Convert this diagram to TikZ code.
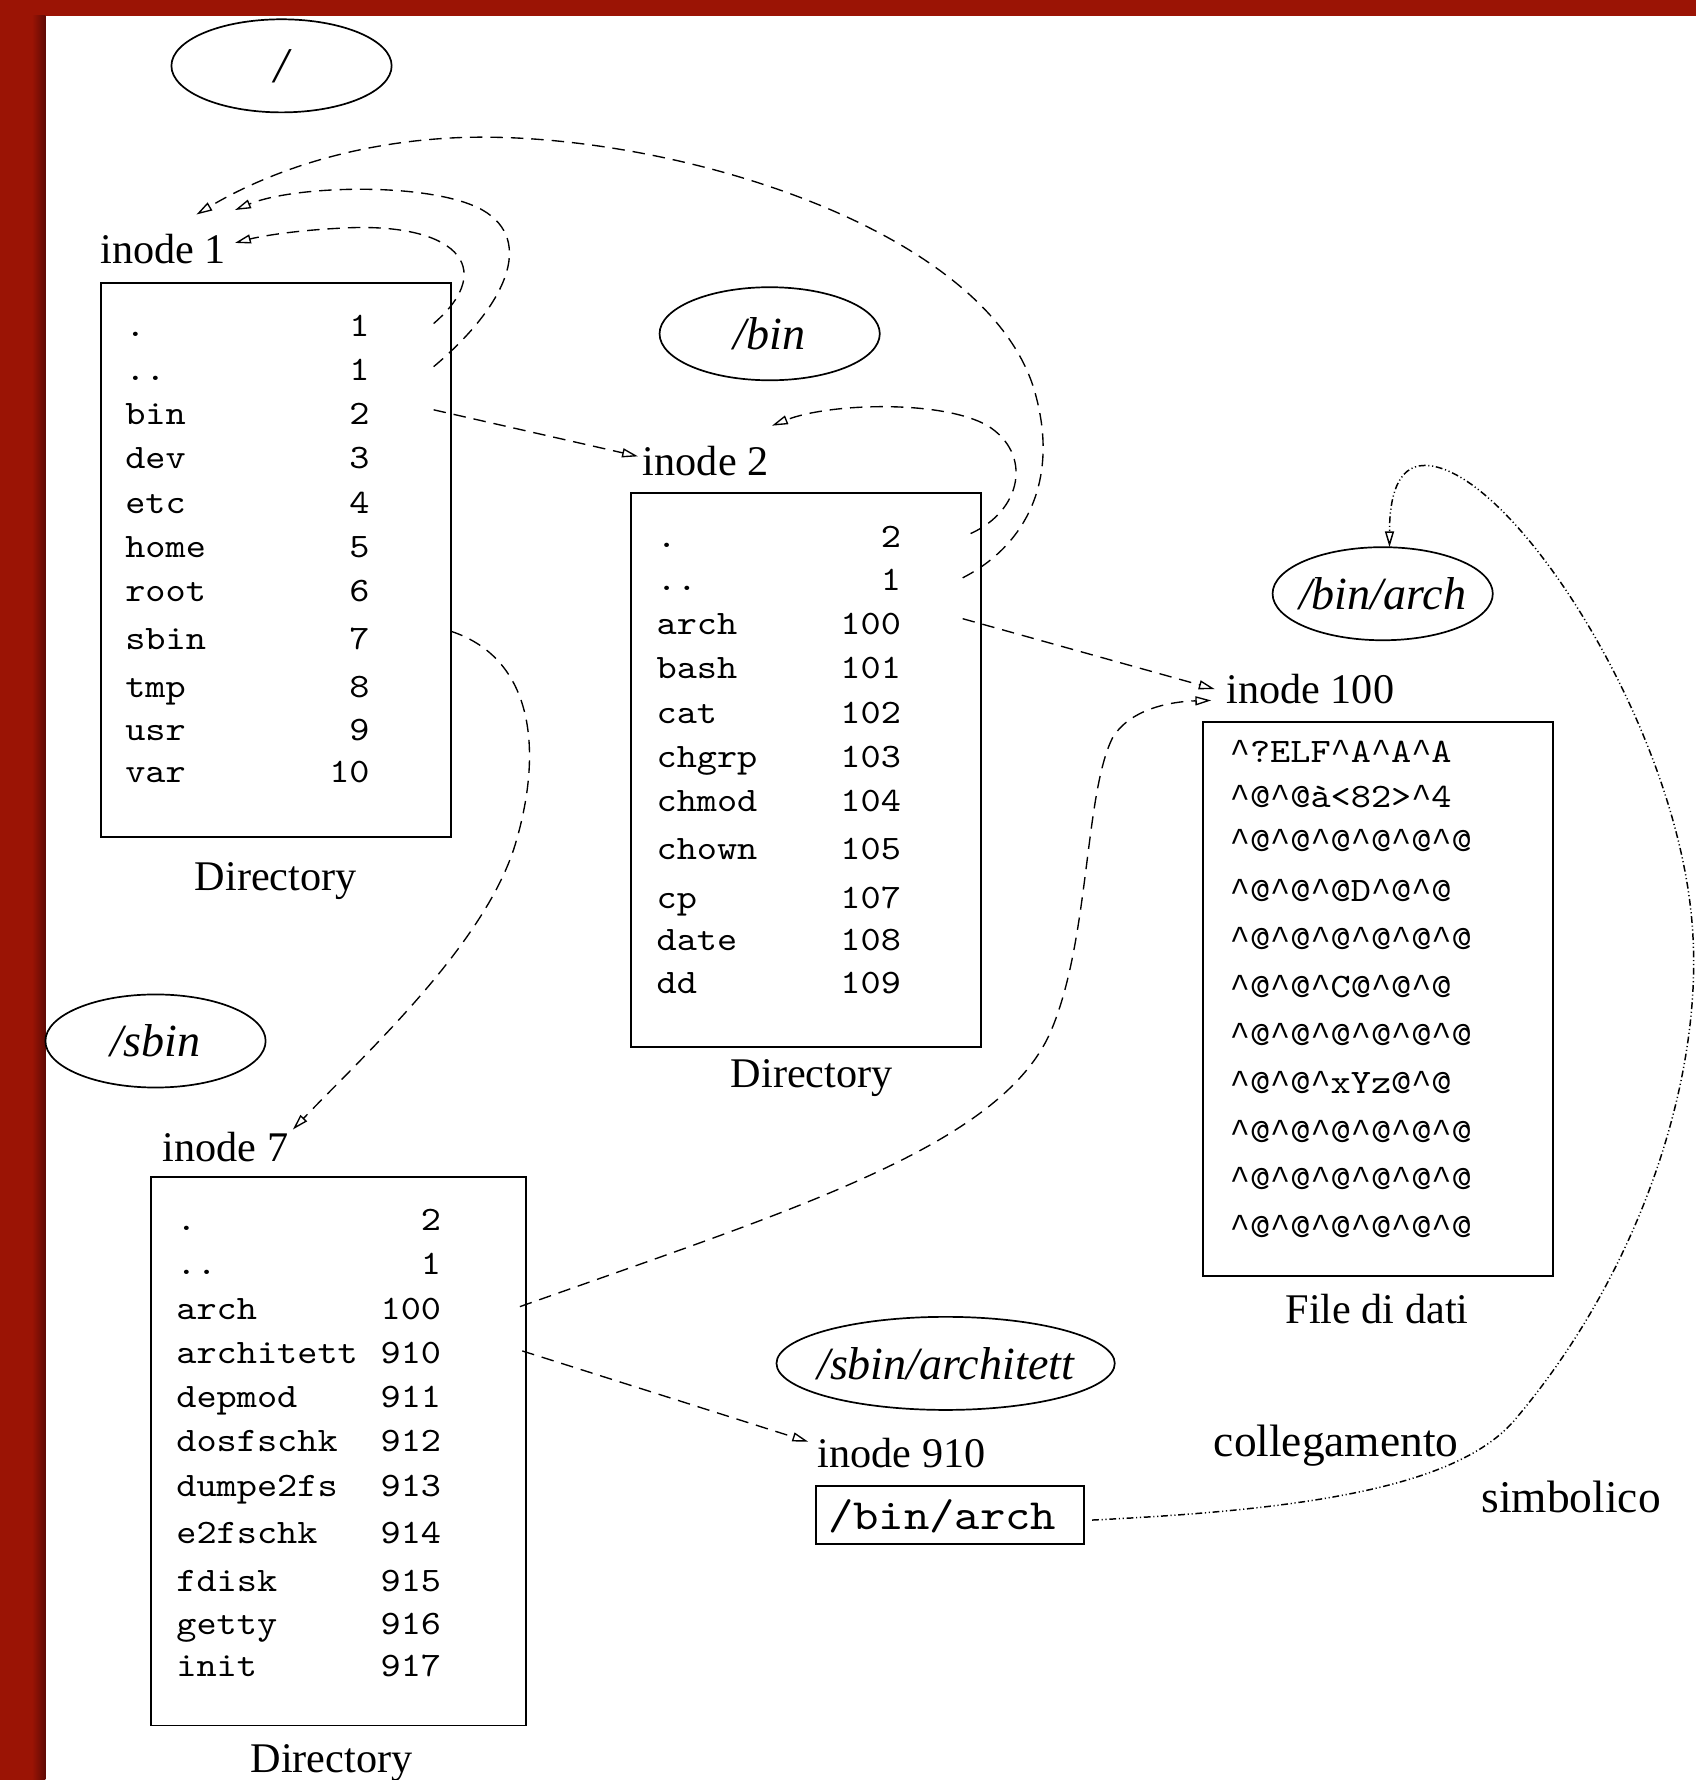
\documentclass[tikz,border=0pt]{standalone}
\usepackage{fontspec}
\setmainfont{Liberation Serif}
\newfontfamily\cour{lmmono10-regular}[Extension=.otf, FakeStretch=1.12]
\newfontfamily\libmono{Liberation Mono}[Scale=0.98]
\usetikzlibrary{arrows.meta,shapes.geometric,calc}
\definecolor{frame}{RGB}{155,20,5}
\definecolor{framedark}{RGB}{95,10,5}
\newcommand\crt{{\libmono\textasciicircum}}
\begin{document}
\begin{tikzpicture}[x=0.5pt,y=-0.5pt,
  lbl/.style={font=\fontsize{18.6}{22}\selectfont, inner sep=0pt},
  biglbl/.style={font=\fontsize{20}{24}\selectfont, inner sep=0pt},
  ent/.style={font=\cour\fontsize{15.1}{18}\selectfont, inner sep=0pt},
  eshape/.style={ellipse, draw, line width=0.75pt, minimum width=97pt, minimum height=41pt, inner sep=0pt},
  etext/.style={inner sep=0pt, font=\itshape\fontsize{20.3}{24}\selectfont},
  dirbox/.style={draw, line width=0.8pt, inner sep=0pt},
  lnk/.style={dash pattern=on 5.5pt off 3.5pt, line width=0.6pt, -{Triangle[open,length=7pt,width=4pt]}},
  sym/.style={dash pattern=on 3pt off 1.2pt on 0.5pt off 1.2pt on 0.5pt off 1.2pt, line width=0.65pt, -{Triangle[open,length=7pt,width=4pt]}},
]
% background and frame
\useasboundingbox (0,0) rectangle (1494,1568);
\fill[frame] (0,0) rectangle (1494,1568);
\fill[white] (40,14) rectangle (1494,1568);
\shade[left color=frame, right color=framedark] (28,14) rectangle (40,1568);

% ellipses
\node[eshape] (e1) at (248,58) {};
\node[etext, font=\itshape\fontsize{22}{26}\selectfont] (e1t) at (e1.center) {/};
\node[eshape] (e2) at (678,294) {};
\node[etext] (e2t) at (e2.center) {/bin};
\node[eshape] (e3) at (1218,523) {};
\node[etext] (e3t) at (e3.center) {/bin/arch};
\node[eshape] (e4) at (137,917) {};
\node[etext] (e4t) at (e4.center) {/sbin};
\node[eshape, minimum width=149pt] (e5) at (833,1201) {};
\node[etext] (e5t) at (e5.center) {/sbin/architett};

% boxes
\node[dirbox, minimum width=154pt, minimum height=244pt] (b1) at (243,493) {};
\node[dirbox, minimum width=154pt, minimum height=244pt] (b2) at (710,678) {};
\node[dirbox, minimum width=154pt, minimum height=244pt] (b100) at (1214,880) {};
\node[dirbox, minimum width=165pt, minimum height=241.5pt] (b7) at (298,1278.5) {};
\node[dirbox, minimum width=118pt, minimum height=25.5pt] (b910) at (837,1334.5) {};
\node[font=\cour\fontsize{19}{22}\selectfont, anchor=base west, inner sep=0pt] (t910) at (729,1347) {/bin/arch};

% labels
\node[lbl, anchor=base west] (i1) at (88,232) {inode 1};
\node[lbl, anchor=base west] (i2) at (566,419) {inode 2};
\node[lbl, anchor=base west] (i100) at (1080,620) {inode 100};
\node[lbl, anchor=base west] (i7) at (143,1023) {inode 7};
\node[lbl, anchor=base west] (i910) at (720,1293) {inode 910};
\node[lbl, anchor=base] (d1) at (243,784) {Directory};
\node[lbl, anchor=base] (d2) at (715,958) {Directory};
\node[lbl, anchor=base] (d100) at (1213,1166) {File di dati};
\node[lbl, anchor=base] (d7) at (292,1561) {Directory};
\node[biglbl, anchor=base] (coll) at (1177,1283) {collegamento};
\node[biglbl, anchor=base] (simb) at (1384,1332) {simbolico};

% entries of inode 1
\foreach \nm/\vl/\yy [count=\i] in {./1/288, ../1/327, bin/2/366, dev/3/405, etc/4/444, home/5/483, root/6/522, sbin/7/564, tmp/8/606, usr/9/644, var/10/681}{
  \node[ent, anchor=base west] (ra\i) at (110,\yy+8) {\nm};
  \node[ent, anchor=base east] (va\i) at (326,\yy+8) {\vl};
}
% entries of inode 2
\foreach \nm/\vl/\yy [count=\i] in {./2/474, ../1/512, arch/100/551, bash/101/590, cat/102/629, chgrp/103/668, chmod/104/707, chown/105/749, cp/107/792, date/108/829, dd/109/867}{
  \node[ent, anchor=base west] (rb\i) at (578,\yy+8) {\nm};
  \node[ent, anchor=base east] (vb\i) at (794,\yy+8) {\vl};
}
% entries of inode 7
\foreach \nm/\vl/\yy [count=\i] in {./2/1076, ../1/1115, arch/100/1154, architett/910/1193, depmod/911/1232, dosfschk/912/1271, dumpe2fs/913/1310, e2fschk/914/1352, fdisk/915/1394, getty/916/1432, init/917/1469}{
  \node[ent, anchor=base west] (rc\i) at (155,\yy+8) {\nm};
  \node[ent, anchor=base east] (vc\i) at (389,\yy+8) {\vl};
}
% data file
\foreach \tx/\yy [count=\i] in {{\crt?ELF\crt A\crt A\crt A}/664, {\crt@\crt@à<82>\crt 4}/703, {\crt@\crt@\crt@\crt@\crt@\crt@}/742, {\crt@\crt@\crt@D\crt@\crt@}/786, {\crt@\crt@\crt@\crt@\crt@\crt@}/828, {\crt@\crt@\crt C@\crt@\crt@}/871, {\crt@\crt@\crt@\crt@\crt@\crt@}/913, {\crt@\crt@\crt xYz@\crt@}/955, {\crt@\crt@\crt@\crt@\crt@\crt@}/998, {\crt@\crt@\crt@\crt@\crt@\crt@}/1040, {\crt@\crt@\crt@\crt@\crt@\crt@}/1082}{
  \node[ent, anchor=base west] (df\i) at (1083,\yy+8) {\tx};
}

% connector end points
\coordinate (sa) at (382,285);
\coordinate (sb) at (382,323);
\coordinate (sbin) at (382,361);
\coordinate (ssbin) at (397,556);
\coordinate (sc) at (848,509);
\coordinate (sd) at (855,470);
\coordinate (sarch) at (848,545);
\coordinate (s7arch) at (458,1151);
\coordinate (s7arc) at (460,1190);
\coordinate (ssym) at (962,1339);
\coordinate (ta) at (207,214);
\coordinate (tb) at (207,185);
\coordinate (tc) at (173,189);
\coordinate (td) at (680,375);
\coordinate (t2) at (562,402);
\coordinate (t100a) at (1070,607);
\coordinate (t100b) at (1067,617);
\coordinate (t7) at (258,995);
\coordinate (t910) at (712,1270);
\coordinate (tarch) at (1224,482);

% connectors
\draw[lnk] (sa) .. controls (440,235) and (400,195) .. (300,201) .. controls (260,203) and (230,208) .. (ta);
\draw[lnk] (sb) .. controls (445,270) and (472,212) .. (425,185) .. controls (380,160) and (260,163) .. (tb);
\draw[lnk] (sc) .. controls (905,480) and (935,420) .. (910,340) .. controls (860,190) and (560,110) .. (390,122) .. controls (300,128) and (230,155) .. (tc);
\draw[lnk] (sd) .. controls (900,450) and (910,400) .. (870,375) .. controls (830,352) and (730,355) .. (td);
\draw[lnk] (sbin) -- (t2);
\draw[lnk] (sarch) -- (t100a);
\draw[lnk] (ssbin) .. controls (470,580) and (478,660) .. (455,740) .. controls (430,830) and (320,930) .. (t7);
\draw[lnk] (s7arch) .. controls (700,1065) and (880,1010) .. (925,910) .. controls (960,830) and (955,700) .. (980,650) .. controls (995,625) and (1030,618) .. (t100b);
\draw[lnk] (s7arc) -- (t910);
\draw[sym] (ssym) .. controls (1150,1330) and (1285,1310) .. (1335,1250) .. controls (1445,1120) and (1500,950) .. (1491,820) .. controls (1480,640) and (1330,410) .. (1255,410) .. controls (1230,410) and (1224,440) .. (tarch);
\end{tikzpicture}
\end{document}
